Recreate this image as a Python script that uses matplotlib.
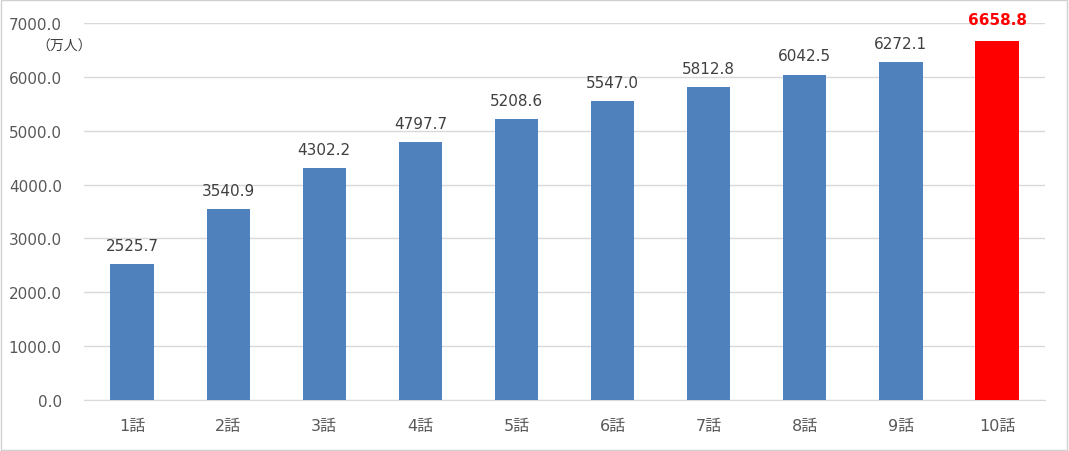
import matplotlib
matplotlib.use("Agg")
import matplotlib.pyplot as plt
from matplotlib.patches import Rectangle

plt.rcParams['font.family'] = ['DejaVu Sans', 'Noto Sans CJK JP']

episodes = ["1話", "2話", "3話", "4話", "5話", "6話", "7話", "8話", "9話", "10話"]
viewers = [2525.7, 3540.9, 4302.2, 4797.7, 5208.6, 5547.0, 5812.8, 6042.5, 6272.1, 6658.8]
yticks = [0, 1000, 2000, 3000, 4000, 5000, 6000, 7000]

blue = "#4F81BD"
red = "#FF0000"
grey = "#595959"

fig = plt.figure(figsize=(10.69, 4.52), dpi=100)
ax = fig.add_axes([0.0786, 0.1128, 0.899, 0.8341])

colors = [blue] * (len(viewers) - 1) + [red]
x = list(range(len(episodes)))
bars = ax.bar(x, viewers, width=0.45, color=colors, zorder=3)

for i, (b, v) in enumerate(zip(bars, viewers)):
    last = i == len(viewers) - 1
    ax.annotate(f"{v:.1f}", (b.get_x() + b.get_width() / 2, v),
                xytext=(0, 8 if not last else 10), textcoords="offset points",
                ha="center", va="bottom", fontsize=11,
                color=red if last else "#404040",
                fontweight="bold" if last else "normal")

ax.set_xlim(-0.5, len(episodes) - 0.5)
ax.set_ylim(0, 7000)
ax.set_yticks(yticks)
ax.set_yticklabels([f"{t:.1f}" for t in yticks], fontsize=11, color=grey)
ax.set_xticks(x)
ax.set_xticklabels(episodes, fontsize=11.5, color=grey)
ax.tick_params(length=0)
ax.tick_params(axis="y", pad=16)
ax.tick_params(axis="x", pad=13)
ax.grid(axis="y", color="#D9D9D9", linewidth=1, zorder=0)
for s in ["top", "right", "left"]:
    ax.spines[s].set_visible(False)
ax.spines["bottom"].set_color("#D9D9D9")

fig.text(0.034, 0.897, "（万人）", fontsize=10, color="#404040", va="center",
         family=['Noto Sans CJK JP', 'DejaVu Sans'])

fig.patches.append(Rectangle((0.001, 0.002), 0.997, 0.995, transform=fig.transFigure,
                             fill=False, edgecolor="#D0D0D0", linewidth=1))

fig.savefig("out.png", dpi=100)
